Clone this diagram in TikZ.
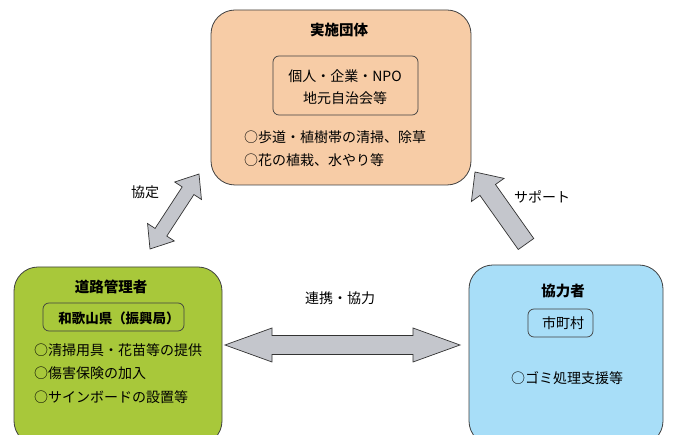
\documentclass[tikz,border=0pt]{standalone}
\usepackage{fontspec}
\setmainfont{Noto Sans CJK JP}
\usetikzlibrary{calc}
\definecolor{peach}{HTML}{F7CCA6}
\definecolor{leaf}{HTML}{A8C83A}
\definecolor{sky}{HTML}{A8DEF8}
\definecolor{arrowgray}{HTML}{C4C6CC}
\newcommand\dblarrow[5]{\draw[blk] let \p1=(#1), \p2=(#2), \n1={atan2(\y2-\y1,\x2-\x1)} in
 (\p1) -- ($(\p1)+(\n1:#3)+(\n1+90:#4)$) -- ($(\p1)+(\n1:#3)+(\n1+90:#5)$)
 -- ($(\p2)+(\n1:-#3)+(\n1+90:#5)$) -- ($(\p2)+(\n1:-#3)+(\n1+90:#4)$) -- (\p2)
 -- ($(\p2)+(\n1:-#3)+(\n1-90:#4)$) -- ($(\p2)+(\n1:-#3)+(\n1-90:#5)$)
 -- ($(\p1)+(\n1:#3)+(\n1-90:#5)$) -- ($(\p1)+(\n1:#3)+(\n1-90:#4)$) -- cycle;}
\newcommand\sglarrow[5]{\draw[blk] let \p1=(#1), \p2=(#2), \n1={atan2(\y2-\y1,\x2-\x1)} in
 ($(\p1)+(\n1+90:#5)$) -- ($(\p2)+(\n1:-#3)+(\n1+90:#5)$) -- ($(\p2)+(\n1:-#3)+(\n1+90:#4)$) -- (\p2)
 -- ($(\p2)+(\n1:-#3)+(\n1-90:#4)$) -- ($(\p2)+(\n1:-#3)+(\n1-90:#5)$)
 -- ($(\p1)+(\n1-90:#5)$) -- cycle;}
\begin{document}
\begin{tikzpicture}[x=1pt,y=-1pt,
  box/.style={draw=black!75, line width=0.8pt, rounded corners=24pt, inner sep=0pt},
  inbox/.style={draw=black!75, line width=0.7pt, rounded corners=6pt, inner sep=0pt},
  blk/.style={draw=black!80, fill=arrowgray, line width=0.7pt, line join=miter},
  txt/.style={inner sep=0pt, font=\fontsize{14}{16}\selectfont},
  ttl/.style={inner sep=0pt, font=\fontsize{14.5}{16}\selectfont\bfseries}]
\useasboundingbox (0,0) rectangle (673,435);
\clip (0,0) rectangle (673,435);
\fill[white] (0,0) rectangle (673,435);
% boxes
\node[box, fill=peach, minimum width=260pt, minimum height=175pt] (top) at (341,97.5) {};
\node[box, fill=leaf, minimum width=208pt, minimum height=178pt] (left) at (118,356) {};
\node[box, fill=sky, minimum width=194pt, minimum height=180pt] (right) at (566,355) {};
% top content
\node[ttl] (t1) at (339,30) {実施団体};
\node[inbox, minimum width=145pt, minimum height=59pt] (tin) at (345.5,85.5) {};
\node[txt] (t2) at (345,76) {個人・企業・NPO};
\node[txt] (t3) at (345,98) {地元自治会等};
\node[txt, anchor=west] (t4) at (244,137) {○歩道・植樹帯の清掃、除草};
\node[txt, anchor=west] (t5) at (244,160) {○花の植栽、水やり等};
% left content
\node[ttl] (l1) at (111,287) {道路管理者};
\node[inbox, minimum width=141pt, minimum height=28pt] (lin) at (113.5,317) {};
\node[ttl, font=\fontsize{13.5}{15}\selectfont\bfseries] (l2) at (119,318) {和歌山県（振興局）};
\node[txt, anchor=west] (l3) at (34,350) {○清掃用具・花苗等の提供};
\node[txt, anchor=west] (l4) at (34,373) {○傷害保険の加入};
\node[txt, anchor=west] (l5) at (34,397) {○サインボードの設置等};
% right content
\node[ttl] (r1) at (563,291) {協力者};
\node[inbox, minimum width=65pt, minimum height=28pt] (rin) at (560.5,323) {};
\node[txt] (r2) at (563,323) {市町村};
\node[txt] (r3) at (567,378) {○ゴミ処理支援等};
% arrow labels
\node[txt] (a1) at (145,192) {協定};
\node[txt] (a2) at (542,197) {サポート};
\node[txt] (a3) at (340,298) {連携・協力};
% arrows
\coordinate (h1) at (225,345);
\coordinate (h2) at (460,345);
\coordinate (d1) at (150,249);
\coordinate (d2) at (199,174);
\coordinate (s1) at (526,244);
\coordinate (s2) at (475,172);
\dblarrow{h1}{h2}{47pt}{17pt}{9.5pt}
\dblarrow{d1}{d2}{20pt}{16pt}{7pt}
\sglarrow{s1}{s2}{22pt}{20pt}{9.5pt}
\end{tikzpicture}
\end{document}
